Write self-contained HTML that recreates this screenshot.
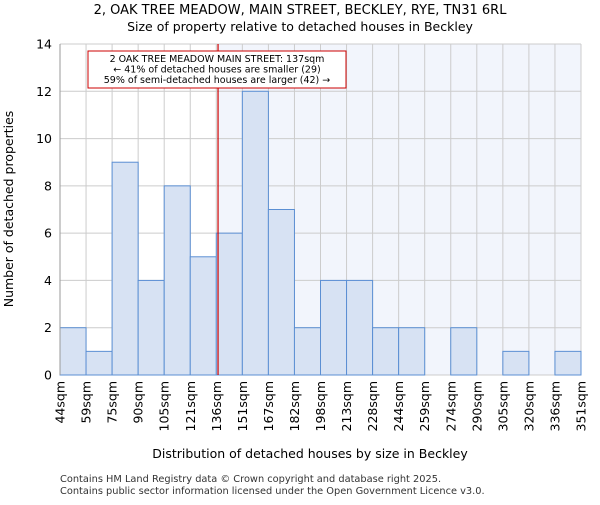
<!DOCTYPE html>
<html><head><meta charset="utf-8"><style>body{margin:0;background:#fff}svg{font-family:"DejaVu Sans","Liberation Sans",sans-serif}</style></head>
<body>
<svg id="c" width="600" height="500" viewBox="0 0 600 500">
<text x="300" y="14" text-anchor="middle" font-size="13">2, OAK TREE MEADOW, MAIN STREET, BECKLEY, RYE, TN31 6RL</text>
<text x="300" y="31" text-anchor="middle" font-size="12.5">Size of property relative to detached houses in Beckley</text>
<g id="plot"></g>
<text x="310" y="458" text-anchor="middle" font-size="12.5">Distribution of detached houses by size in Beckley</text>
<text transform="translate(13,209) rotate(-90)" text-anchor="middle" font-size="12.5">Number of detached properties</text>
<text x="60" y="482" font-size="9.8" fill="#333">Contains HM Land Registry data © Crown copyright and database right 2025.</text>
<text x="60" y="494" font-size="9.8" fill="#333">Contains public sector information licensed under the Open Government Licence v3.0.</text>
</svg>
<script>
const tickLabels=["44sqm","59sqm","75sqm","90sqm","105sqm","121sqm","136sqm","151sqm","167sqm","182sqm","198sqm","213sqm","228sqm","244sqm","259sqm","274sqm","290sqm","305sqm","320sqm","336sqm","351sqm"];
const counts=[2,1,9,4,8,5,6,12,7,2,4,4,2,2,0,2,0,1,0,1];
const yTicks=[0,2,4,6,8,10,12,14];
const markerBin=6+(137-136)/15;
const NS="http://www.w3.org/2000/svg";
const g=document.getElementById('plot');
const L=60,R=581,T=44,B=375,yMax=14;
const bw=(R-L)/counts.length;
const x=i=>L+i*bw, y=v=>B-(v/yMax)*(B-T);
function el(t,a,p){const e=document.createElementNS(NS,t);for(const k in a)e.setAttribute(k,a[k]);(p||g).appendChild(e);return e;}
const mx=x(markerBin);
let sh=el('rect',{x:mx,y:T,width:R-mx,height:B-T,fill:'#f2f5fc'});


yTicks.forEach(v=>{let l=el('line',{x1:L,x2:R,y1:y(v),y2:y(v),stroke:'#cccccc'});


let t=el('text',{x:L-8,y:y(v)+4.5,'text-anchor':'end','font-size':'12.5'});t.textContent=v;

});
tickLabels.forEach((s,i)=>{let l=el('line',{x1:x(i),x2:x(i),y1:T,y2:B,stroke:'#cccccc'});


let t=el('text',{transform:`translate(${x(i)+4.5},${B+6}) rotate(-90)`,'text-anchor':'end','font-size':'12.5'});t.textContent=s;

});
counts.forEach((c,i)=>{if(!c)return;let r=el('rect',{x:x(i),y:y(c),width:bw,height:B-y(c),fill:'#d7e2f3',stroke:'#5b8fd3','stroke-width':1});

});
let ml=el('line',{x1:mx,x2:mx,y1:T,y2:B,stroke:'#cc0000','stroke-width':1.2});


let ax=el('line',{x1:L,x2:L,y1:T,y2:B,stroke:'#999'});


let bx=el('rect',{x:88,y:51,width:258,height:37,fill:'#fff',stroke:'#cc0000'});


["2 OAK TREE MEADOW MAIN STREET: 137sqm","← 41% of detached houses are smaller (29)","59% of semi-detached houses are larger (42) →"].forEach((s,i)=>{let t=el('text',{x:217,y:62+i*10.5,'text-anchor':'middle','font-size':'9.5'});t.textContent=s;

});
</script>
</body></html>
